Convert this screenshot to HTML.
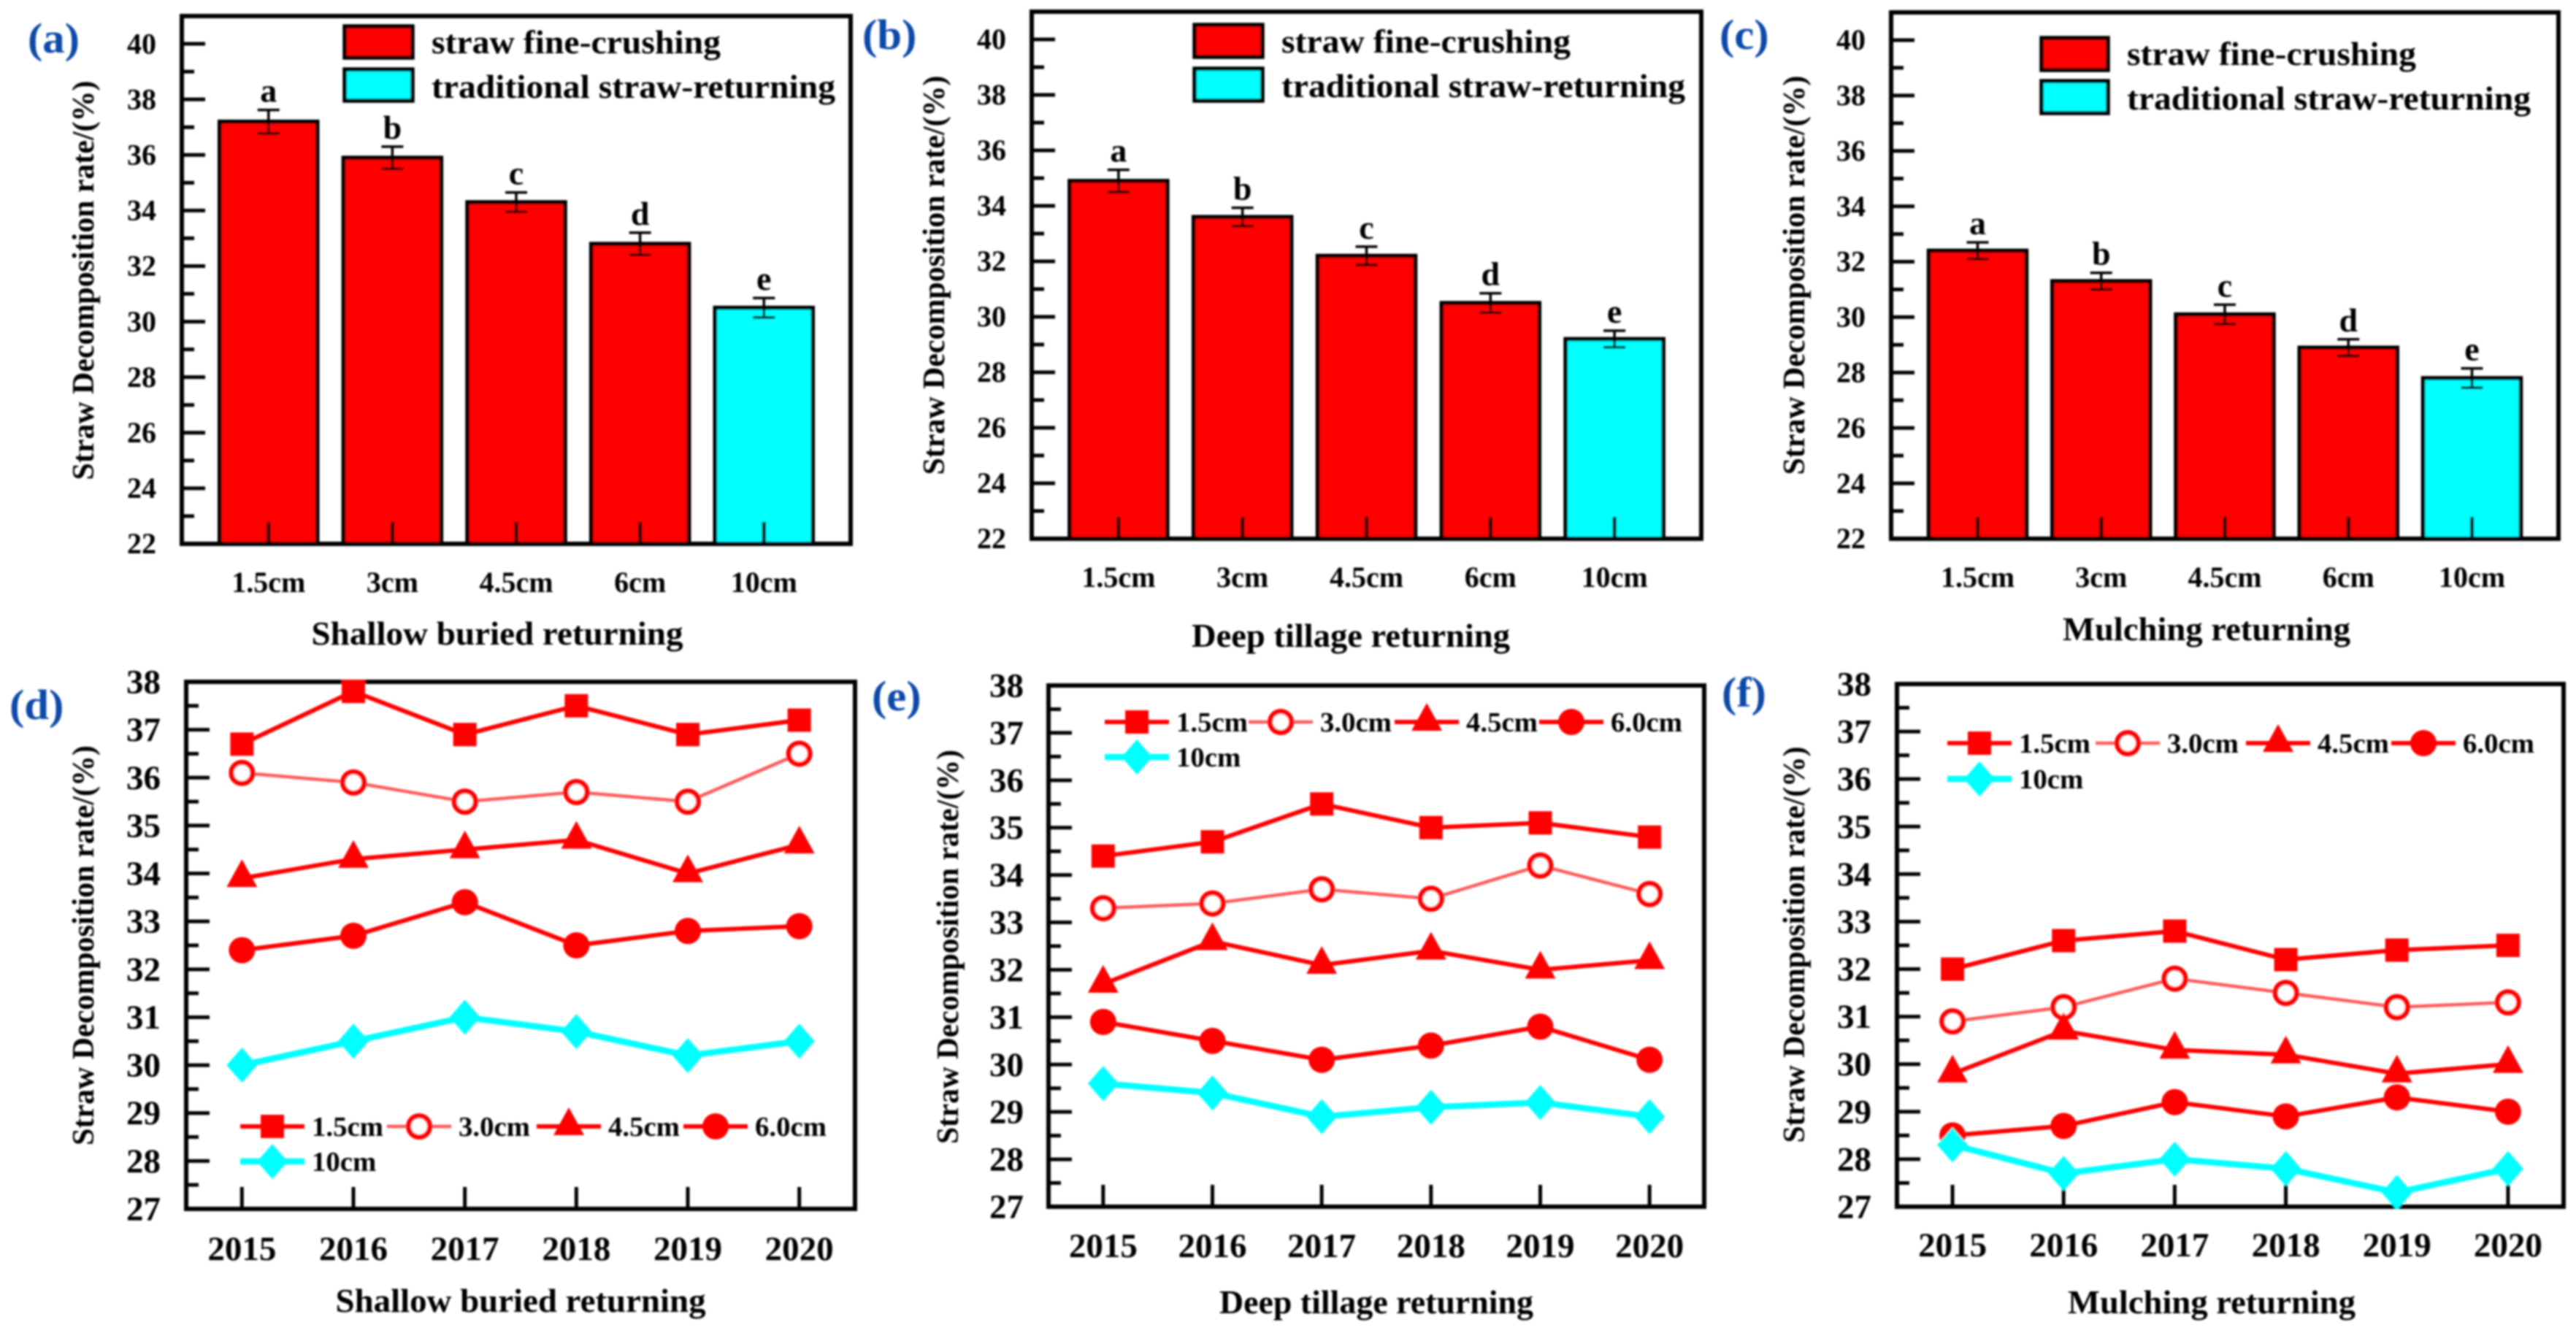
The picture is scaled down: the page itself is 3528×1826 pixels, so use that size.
<!DOCTYPE html>
<html lang="en">
<head>
<meta charset="utf-8">
<title>Straw decomposition rate by crushing length and returning method</title>
<style>
html,body{margin:0;padding:0;background:#fff;}
svg{display:block;}
text{font-family:"Liberation Serif",serif;font-weight:bold;fill:#000;}
</style>
</head>
<body>
<svg id="figure" xmlns="http://www.w3.org/2000/svg" width="3528" height="1826" viewBox="0 0 3528 1826">
<defs>
<filter id="soft" filterUnits="userSpaceOnUse" x="0" y="0" width="3528" height="1826"><feGaussianBlur stdDeviation="1.3"/></filter>
</defs>
<rect width="3528" height="1826" fill="#fff"/>
<g id="root" filter="url(#soft)"></g>
</svg>
<script>
// ---- chart data ----
const barCategories = ['1.5cm', '3cm', '4.5cm', '6cm', '10cm'];
const barLetters = ['a', 'b', 'c', 'd', 'e'];
const barTicks = [22, 24, 26, 28, 30, 32, 34, 36, 38, 40];
const barYMin = 22;
const barYMax = 41;
const barsA = [37.2, 35.9, 34.3, 32.8, 30.5];
const errorsA = [0.42, 0.4, 0.35, 0.4, 0.35];
const barsB = [34.9, 33.6, 32.2, 30.5, 29.2];
const errorsB = [0.4, 0.33, 0.33, 0.35, 0.3];
const barsC = [32.4, 31.3, 30.1, 28.9, 27.8];
const errorsC = [0.3, 0.3, 0.35, 0.3, 0.35];

const years = ['2015', '2016', '2017', '2018', '2019', '2020'];
const lineTicks = [27, 28, 29, 30, 31, 32, 33, 34, 35, 36, 37, 38];
const lineYMin = 27;
const lineYMax = 38;
const seriesNames = ['1.5cm', '3.0cm', '4.5cm', '6.0cm', '10cm'];

const d15 = [36.7, 37.8, 36.9, 37.5, 36.9, 37.2];
const d30 = [36.1, 35.9, 35.5, 35.7, 35.5, 36.5];
const d45 = [33.9, 34.3, 34.5, 34.7, 34.0, 34.6];
const d60 = [32.4, 32.7, 33.4, 32.5, 32.8, 32.9];
const d100 = [30.0, 30.5, 31.0, 30.7, 30.2, 30.5];

const e15 = [34.4, 34.7, 35.5, 35.0, 35.1, 34.8];
const e30 = [33.3, 33.4, 33.7, 33.5, 34.2, 33.6];
const e45 = [31.7, 32.6, 32.1, 32.4, 32.0, 32.2];
const e60 = [30.9, 30.5, 30.1, 30.4, 30.8, 30.1];
const e100 = [29.6, 29.4, 28.9, 29.1, 29.2, 28.9];

const f15 = [32.0, 32.6, 32.8, 32.2, 32.4, 32.5];
const f30 = [30.9, 31.2, 31.8, 31.5, 31.2, 31.3];
const f45 = [29.8, 30.7, 30.3, 30.2, 29.8, 30.0];
const f60 = [28.5, 28.7, 29.2, 28.9, 29.3, 29.0];
const f100 = [28.3, 27.7, 28.0, 27.8, 27.3, 27.8];

// ---- helpers ----
const NS = 'http://www.w3.org/2000/svg';
const root = document.getElementById('root');
const BLACK = '#000';
const RED = '#ff0000';
const CYAN = '#00ffff';
const PINK = '#ff5a5a';
const BLUE = '#0a4aa8';
const Y_TITLE = 'Straw Decomposition rate/(%)';

function make(parent, tag, attrs, content) {
  const node = document.createElementNS(NS, tag);
  for (const k in attrs) node.setAttribute(k, attrs[k]);
  if (content !== undefined) node.textContent = content;
  parent.appendChild(node);
  return node;
}
function makeText(parent, str, x, y, size, anchor, sx, rotate, color) {
  const attrs = {x: x, y: y, 'font-size': size, 'text-anchor': anchor};
  if (rotate) attrs.transform = 'rotate(-90 ' + x + ' ' + y + ')';
  if (color) attrs.style = 'fill:' + color;
  const t = make(parent, 'text', attrs, str);
  if (sx && sx !== 1) {
    t.setAttribute('textLength', (t.getComputedTextLength() * sx).toFixed(1));
    t.setAttribute('lengthAdjust', 'spacingAndGlyphs');
  }
  return t;
}
function fitText(t, width) {
  t.setAttribute('textLength', width);
  t.setAttribute('lengthAdjust', 'spacingAndGlyphs');
}
function scaleLinear(d0, d1, r0, r1) {
  return function (v) { return r0 + (v - d0) / (d1 - d0) * (r1 - r0); };
}

// shared frame, y ticks, y/x titles and panel letter
function drawFrame(g, p, ticks, yMin, yMax, labelSize, labelSx) {
  const y = scaleLinear(yMin, yMax, p.bottom, p.top);
  ticks.forEach(function (v, i) {
    const yy = y(v);
    if (v !== yMin && v !== yMax) {
      const major = make(g, 'line', {x1: p.left, x2: p.left + 32, y1: yy, y2: yy, stroke: BLACK, 'stroke-width': 5});
      
      
    }
    const label = makeText(g, String(v), p.yLabelX, yy + labelSize * 0.33, labelSize, 'end', labelSx);
    
    
    if (i < ticks.length - 1) {
      const mid = y((v + ticks[i + 1]) / 2);
      const minor = make(g, 'line', {x1: p.left, x2: p.left + 17, y1: mid, y2: mid, stroke: BLACK, 'stroke-width': 5});
      
      
    }
  });
  const top = ticks[ticks.length - 1];
  if (yMax > top) {
    const over = y(top + (ticks[1] - ticks[0]) / 2);
    if (over > p.top + 4) {
      const minorTop = make(g, 'line', {x1: p.left, x2: p.left + 17, y1: over, y2: over, stroke: BLACK, 'stroke-width': 5});
      
      
    }
  }
  const yTitle = makeText(g, Y_TITLE, p.yTitleX, p.yTitleY, 42, 'middle', 1, true);
  fitText(yTitle, p.yTitleLen);
  
  

  const xTitle = makeText(g, p.xTitle, p.xTitleX, p.xTitleY, 46, 'middle');
  fitText(xTitle, p.xTitleLen);
  
  

  const letter = makeText(g, p.letter, p.letterX, p.letterY, 58, 'start', 1.05, false, BLUE);
  
  
  return y;
}
function drawBox(g, p) {
  const box = make(g, 'rect', {x: p.left, y: p.top, width: p.right - p.left, height: p.bottom - p.top, fill: 'none', stroke: BLACK, 'stroke-width': 6});
  
  
}

// ---- bar panels ----
function drawBarPanel(p, values, errors) {
  const g = make(root, 'g', {});
  
  
  const y = drawFrame(g, p, barTicks, barYMin, barYMax, 40, 1);
  const x = scaleLinear(0.3, barCategories.length + 0.7, p.left, p.right);
  const halfBar = 67;
  values.forEach(function (v, i) {
    const cx = x(i + 1);
    const bar = make(g, 'rect', {
      x: cx - halfBar, y: y(v), width: halfBar * 2, height: p.bottom - y(v),
      fill: i === values.length - 1 ? CYAN : RED, stroke: BLACK, 'stroke-width': 5.5
    });
    
    

    const e = errors[i];
    const errPath = 'M' + cx + ' ' + y(v + e) + 'V' + y(v - e) +
      'M' + (cx - 15) + ' ' + y(v + e) + 'H' + (cx + 15) +
      'M' + (cx - 15) + ' ' + y(v - e) + 'H' + (cx + 15);
    const err = make(g, 'path', {d: errPath, fill: 'none', stroke: BLACK, 'stroke-width': 3.5});
    
    

    const sig = makeText(g, barLetters[i], cx, y(v + e) - 11, 46, 'middle');
    
    

    const tick = make(g, 'line', {x1: cx, x2: cx, y1: p.bottom, y2: p.bottom - 30, stroke: BLACK, 'stroke-width': 5});
    
    

    const label = makeText(g, barCategories[i], cx, p.xLabelY, 40, 'middle', 1);
    
    
  });
  drawBox(g, p);

  // legend
  const lg = p.legend;
  const swatch1 = make(g, 'rect', {x: lg.x, y: lg.y1, width: lg.w, height: lg.h, fill: RED, stroke: BLACK, 'stroke-width': 5.5});
  
  
  const swatch2 = make(g, 'rect', {x: lg.x, y: lg.y2, width: lg.w, height: lg.h, fill: CYAN, stroke: BLACK, 'stroke-width': 5.5});
  
  
  const text1 = makeText(g, 'straw fine-crushing', lg.textX, lg.base1, 46, 'start');
  fitText(text1, 396);
  
  
  const text2 = makeText(g, 'traditional straw-returning', lg.textX, lg.base2, 46, 'start');
  fitText(text2, 553);
  
  
}

// ---- markers ----
function drawMarker(g, kind, cx, cy) {
  let m;
  if (kind === 0) {
    m = make(g, 'rect', {x: cx - 16, y: cy - 16, width: 32, height: 32, fill: RED});
  } else if (kind === 1) {
    m = make(g, 'circle', {cx: cx, cy: cy, r: 14.5, fill: '#fff', stroke: RED, 'stroke-width': 7});
  } else if (kind === 2) {
    m = make(g, 'polygon', {points: (cx - 21) + ',' + (cy + 12) + ' ' + (cx + 21) + ',' + (cy + 12) + ' ' + cx + ',' + (cy - 26), fill: RED});
  } else if (kind === 3) {
    m = make(g, 'circle', {cx: cx, cy: cy, r: 18, fill: RED});
  } else {
    m = make(g, 'polygon', {points: (cx - 21) + ',' + cy + ' ' + cx + ',' + (cy - 24) + ' ' + (cx + 21) + ',' + cy + ' ' + cx + ',' + (cy + 24), fill: CYAN});
  }
  
  
}
function seriesStroke(i) { return i === 4 ? CYAN : (i === 1 ? PINK : RED); }
function seriesWidth(i) { return i === 4 ? 8.5 : (i === 1 ? 4.5 : 6); }

// ---- line panels ----
function drawLinePanel(p, series) {
  const g = make(root, 'g', {});
  
  
  const y = drawFrame(g, p, lineTicks, lineYMin, lineYMax, 47, 1);
  const x = scaleLinear(-0.5, years.length - 0.5, p.left, p.right);
  years.forEach(function (yr, i) {
    const tick = make(g, 'line', {x1: x(i), x2: x(i), y1: p.bottom, y2: p.bottom - 30, stroke: BLACK, 'stroke-width': 5});
    
    
    const label = makeText(g, yr, x(i), p.xLabelY, 47, 'middle');
    
    
  });
  drawBox(g, p);
  series.forEach(function (vals, s) {
    const pts = vals.map(function (v, i) { return x(i) + ',' + y(v); }).join(' ');
    const line = make(g, 'polyline', {points: pts, fill: 'none', stroke: seriesStroke(s), 'stroke-width': seriesWidth(s), 'stroke-linejoin': 'round'});
    
    
    vals.forEach(function (v, i) { drawMarker(g, s, x(i), y(v)); });
  });
  // legend
  const lg = p.legend;
  seriesNames.forEach(function (nm, s) {
    const cx = lg.marks[s];
    const cy = s === 4 ? lg.row2 : lg.row1;
    const key = make(g, 'line', {x1: cx - 44, x2: cx + 44, y1: cy, y2: cy, stroke: seriesStroke(s), 'stroke-width': seriesWidth(s)});
    
    
    drawMarker(g, s, cx, cy);
    const text = makeText(g, nm, cx + 54, cy + 13, 38, 'start', 1.02);
    
    
  });
}

// ---- layout of each panel ----
drawBarPanel({name: 'panel-a', letter: '(a)', letterX: 38, letterY: 72,
  left: 249, right: 1165, top: 22, bottom: 745, yLabelX: 214, xLabelY: 811,
  yTitleX: 128, yTitleY: 384, yTitleLen: 547,
  xTitle: 'Shallow buried returning', xTitleX: 681, xTitleY: 883, xTitleLen: 509,
  legend: {x: 472, w: 93, y1: 36, y2: 95, h: 43, textX: 591, base1: 73, base2: 134}
}, barsA, errorsA);

drawBarPanel({name: 'panel-b', letter: '(b)', letterX: 1181, letterY: 67,
  left: 1413, right: 2330, top: 16, bottom: 738, yLabelX: 1378, xLabelY: 804,
  yTitleX: 1293, yTitleY: 377, yTitleLen: 547,
  xTitle: 'Deep tillage returning', xTitleX: 1850, xTitleY: 886, xTitleLen: 436,
  legend: {x: 1636, w: 93, y1: 34, y2: 94, h: 44, textX: 1755, base1: 72, base2: 133}
}, barsB, errorsB);

drawBarPanel({name: 'panel-c', letter: '(c)', letterX: 2355, letterY: 67,
  left: 2590, right: 3504, top: 17, bottom: 738, yLabelX: 2555, xLabelY: 804,
  yTitleX: 2471, yTitleY: 377, yTitleLen: 547,
  xTitle: 'Mulching returning', xTitleX: 3022, xTitleY: 877, xTitleLen: 394,
  legend: {x: 2796, w: 91, y1: 52, y2: 111, h: 44, textX: 2913, base1: 89, base2: 150}
}, barsC, errorsC);

drawLinePanel({name: 'panel-d', letter: '(d)', letterX: 13, letterY: 985,
  left: 255, right: 1171, top: 934, bottom: 1656, yLabelX: 220, xLabelY: 1726,
  yTitleX: 128, yTitleY: 1295, yTitleLen: 548,
  xTitle: 'Shallow buried returning', xTitleX: 713, xTitleY: 1797, xTitleLen: 507,
  legend: {marks: [373, 574, 779, 980, 373], row1: 1543, row2: 1591}
}, [d15, d30, d45, d60, d100]);

drawLinePanel({name: 'panel-e', letter: '(e)', letterX: 1194, letterY: 973,
  left: 1436, right: 2334, top: 939, bottom: 1653, yLabelX: 1402, xLabelY: 1722,
  yTitleX: 1312, yTitleY: 1297, yTitleLen: 540,
  xTitle: 'Deep tillage returning', xTitleX: 1885, xTitleY: 1799, xTitleLen: 430,
  legend: {marks: [1557, 1754, 1954, 2152, 1557], row1: 989, row2: 1037}
}, [e15, e30, e45, e60, e100]);

drawLinePanel({name: 'panel-f', letter: '(f)', letterX: 2358, letterY: 968,
  left: 2598, right: 3511, top: 937, bottom: 1653, yLabelX: 2563, xLabelY: 1721,
  yTitleX: 2471, yTitleY: 1294, yTitleLen: 543,
  xTitle: 'Mulching returning', xTitleX: 3029, xTitleY: 1799, xTitleLen: 394,
  legend: {marks: [2711, 2914, 3120, 3319, 2711], row1: 1018, row2: 1067}
}, [f15, f30, f45, f60, f100]);
</script>
</body>
</html>
